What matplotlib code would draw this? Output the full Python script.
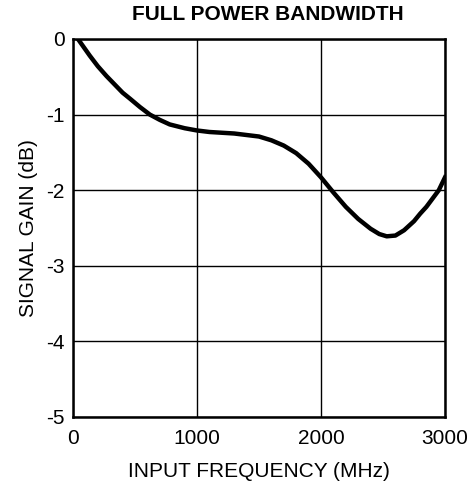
import matplotlib
matplotlib.use('Agg')
import matplotlib.pyplot as plt

# values
freq_mhz = [40, 135, 200, 270, 335, 400, 460, 540, 620, 700, 780, 900, 1000,
            1100, 1200, 1300, 1400, 1500, 1600, 1700, 1800, 1900, 2000, 2100,
            2200, 2300, 2400, 2470, 2530, 2600, 2670, 2750, 2800, 2850, 2900,
            2950, 3000]
gain_db = [0.0, -0.22, -0.36, -0.49, -0.60, -0.71, -0.79, -0.90, -1.00, -1.07,
           -1.13, -1.18, -1.21, -1.23, -1.24, -1.25, -1.27, -1.29, -1.34, -1.41,
           -1.51, -1.65, -1.83, -2.03, -2.22, -2.38, -2.51, -2.58, -2.61, -2.60,
           -2.53, -2.41, -2.31, -2.22, -2.11, -2.00, -1.83]
x_ticks = [0, 1000, 2000, 3000]
y_ticks = [0, -1, -2, -3, -4, -5]

plt.rcParams['font.family'] = ['Liberation Sans', 'DejaVu Sans']

fig = plt.figure(figsize=(4.69, 4.83), dpi=100)
ax = fig.add_axes([73 / 469, 1 - 417 / 483, 372 / 469, 378 / 483])

ax.plot(freq_mhz, gain_db, color='black', lw=3.2, solid_joinstyle='round')

ax.set_xlim(0, 3000)
ax.set_ylim(-5, 0)
ax.set_xticks(x_ticks)
ax.set_yticks(y_ticks)
ax.set_xticklabels([str(t) for t in x_ticks], fontsize=15)
ax.set_yticklabels([str(t) for t in y_ticks], fontsize=15)
ax.tick_params(axis='x', length=0, pad=9)
ax.tick_params(axis='y', length=0, pad=6)
ax.grid(True, color='black', lw=1.0)
for s in ax.spines.values():
    s.set_linewidth(1.8)

ax.set_xlabel('INPUT FREQUENCY (MHz)', fontsize=15, labelpad=10)
ax.set_ylabel('SIGNAL GAIN (dB)', fontsize=15, labelpad=6)
fig.text(268 / 469, 1 - 15 / 483, 'FULL POWER BANDWIDTH', fontsize=15,
         fontweight='bold', ha='center', va='center')

fig.savefig('out.png', dpi=100)
